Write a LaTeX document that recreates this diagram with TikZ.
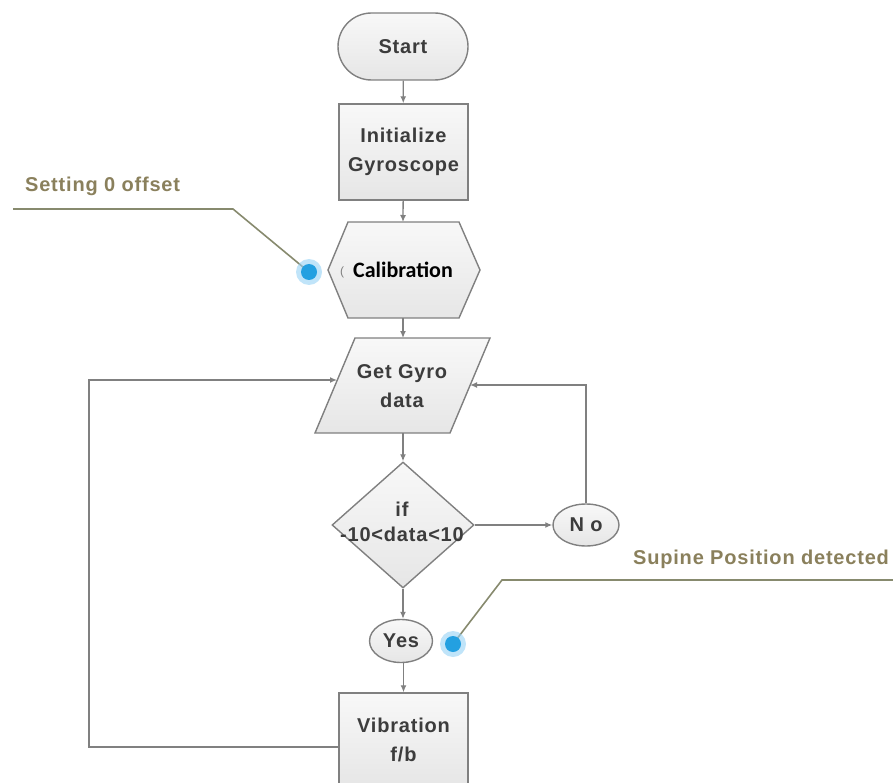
\documentclass[tikz,border=0pt]{standalone}
\usepackage{fontspec}
\setmainfont{Liberation Sans}
\newfontfamily\flowfont[LetterSpace=4]{Liberation Sans}
\newfontfamily\calfont{Carlito}
\usetikzlibrary{arrows.meta,shapes.geometric,shapes.misc}

\definecolor{flowline}{RGB}{128,128,128}
\definecolor{flowtext}{RGB}{60,60,60}
\definecolor{boxgray}{RGB}{230,230,230}
\definecolor{boxtop}{RGB}{248,248,248}
\definecolor{notetext}{RGB}{138,128,92}
\definecolor{noteline}{RGB}{135,138,110}
\definecolor{dotblue}{RGB}{35,160,225}
\definecolor{glowblue}{RGB}{150,210,245}

\tikzset{
  flowshape/.style={draw=flowline, line width=1.4pt, top color=boxtop, bottom color=boxgray},
  flowlabel/.style={text=flowtext, font={\flowfont\bfseries\fontsize{20}{29}\selectfont},
    align=center, inner sep=0pt},
  shapebox/.style={flowshape, flowlabel},
  flowarrow/.style={draw=flowline, line width=1.3pt, -{Latex[length=7pt,width=6pt]}},
  noteline/.style={draw=noteline, line width=1.6pt},
  notelabel/.style={text=notetext, font={\flowfont\bfseries\fontsize{20}{24}\selectfont}, inner sep=0pt},
  bluedot/.style={circle, fill=dotblue, inner sep=0pt, minimum size=16pt},
}

\begin{document}
\begin{tikzpicture}[x=1pt,y=-1pt]
  \useasboundingbox (0,0) rectangle (893,783);
  \clip (0,0) rectangle (893,783);

  % main flow
  \node[shapebox, rounded rectangle, minimum width=130pt, minimum height=67pt] (start) at (403,46.5) {Start};
  \node[shapebox, rectangle, minimum width=129pt, minimum height=96pt] (init) at (403.5,152) {Initialize\\Gyroscope};

  % preparation hexagon
  \path[flowshape] (328,270) -- (348,222) -- (459,222) -- (480,270) -- (459,318) -- (348,318) -- cycle;
  \coordinate (calin) at (403,222);
  \coordinate (calout) at (403,318);
  \node[text=black, font={\calfont\bfseries\fontsize{22}{26}\selectfont}, inner sep=0pt] (cal) at (403,270) {Calibration};
  \node[text=flowline, font={\fontsize{12}{12}\selectfont}, inner sep=0pt] (calmark) at (342,272) {(};

  % input parallelogram
  \path[flowshape] (315,433) -- (355,338) -- (490,338) -- (450,433) -- cycle;
  \coordinate (getin) at (403,338);
  \coordinate (getout) at (403,433);
  \coordinate (getleft) at (337,380);
  \coordinate (getright) at (470,385);
  \node[flowlabel] (get) at (402,386) {Get Gyro\\data};

  % decision
  \node[flowshape, diamond, minimum width=142pt, minimum height=126pt, inner sep=0pt] (dec) at (403,525) {};
  \node[flowlabel, font={\flowfont\bfseries\fontsize{20}{25}\selectfont}] (dectext) at (402,522) {if\\-10<data<10};

  \node[shapebox, ellipse, minimum width=66pt, minimum height=42pt] (no) at (586,525) {N o};
  \node[shapebox, ellipse, minimum width=63pt, minimum height=43pt] (yes) at (401,641) {Yes};
  \node[shapebox, rectangle, minimum width=129pt, minimum height=94pt] (vib) at (403.5,740) {Vibration\\f/b};

  % connectors
  \draw[flowarrow] (start) -- (init);
  \draw[flowarrow] (init) -- (calin);
  \draw[flowarrow] (calout) -- (getin);
  \draw[flowarrow] (getout) -- (dec.north);
  \draw[flowarrow] (dec.south) -- (dec.south |- yes.north);
  \draw[flowarrow] (yes.south -| vib.north) -- (vib.north);
  \draw[flowarrow] (dec.east) -- (no.west);
  \draw[flowarrow] (no.north) |- (getright);
  \coordinate (loopcorner) at (89,747);
  \draw[flowarrow] (vib.west |- loopcorner) -- (loopcorner) |- (getleft);

  % annotations
  \coordinate (note1end) at (13,209);
  \coordinate (note1bend) at (233,209);
  \coordinate (dot1c) at (309,272);
  \draw[noteline] (note1end) -- (note1bend) -- (dot1c);
  \fill[glowblue, opacity=0.6] (dot1c) circle (13pt);
  \node[bluedot] (dot1) at (dot1c) {};
  \node[notelabel, anchor=base west] (note1) at (25,192) {Setting 0 offset};

  \coordinate (dot2c) at (453,644);
  \coordinate (note2bend) at (502,580);
  \coordinate (note2end) at (893,580);
  \draw[noteline] (dot2c) -- (note2bend) -- (note2end);
  \fill[glowblue, opacity=0.6] (dot2c) circle (13pt);
  \node[bluedot] (dot2) at (dot2c) {};
  \node[notelabel, anchor=base west] (note2) at (633,564) {Supine Position detected};
\end{tikzpicture}
\end{document}
